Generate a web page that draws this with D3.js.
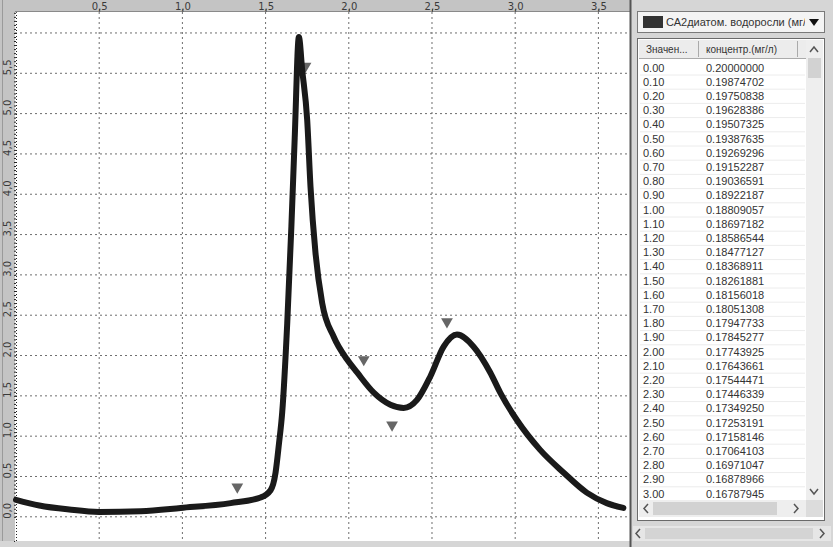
<!DOCTYPE html>
<html>
<head>
<meta charset="utf-8">
<script src="https://cdn.jsdelivr.net/npm/d3@7"></script>
<style>
  body { margin: 0; background: #d6d6d6; }
  svg { display: block; }
</style>
</head>
<body>
<svg id="chart"></svg>
<script>
// curve (time, concentration)
const curveX = [0.00, 0.14, 0.32, 0.50, 0.75, 0.99, 1.29, 1.47, 1.53, 1.56, 1.58, 1.60, 1.63, 1.655, 1.675, 1.70, 1.72, 1.75, 1.77, 1.80, 1.84, 1.91, 1.99, 2.05, 2.15, 2.25, 2.33, 2.41, 2.49, 2.57, 2.65, 2.75, 2.85, 2.91, 3.01, 3.15, 3.29, 3.43, 3.55, 3.65];
const curveY = [0.21, 0.14, 0.09, 0.06, 0.07, 0.11, 0.17, 0.24, 0.33, 0.55, 0.90, 1.30, 2.40, 3.60, 4.70, 5.95, 5.54, 4.92, 4.09, 3.27, 2.65, 2.23, 1.95, 1.79, 1.54, 1.39, 1.35, 1.45, 1.74, 2.11, 2.26, 2.11, 1.79, 1.54, 1.20, 0.83, 0.55, 0.30, 0.17, 0.11];

// triangle markers
const markerX = [1.33, 1.74, 2.09, 2.26, 2.59];
const markerY = [0.37, 5.59, 1.95, 1.14, 2.42];

// axis ticks
const xTicks = [0.5, 1.0, 1.5, 2.0, 2.5, 3.0, 3.5];
const xTickLabels = ["0,5", "1,0", "1,5", "2,0", "2,5", "3,0", "3,5"];
const yTicks = [0.0, 0.5, 1.0, 1.5, 2.0, 2.5, 3.0, 3.5, 4.0, 4.5, 5.0, 5.5, 6.0];
const yTickLabels = ["0,0", "0,5", "1,0", "1,5", "2,0", "2,5", "3,0", "3,5", "4,0", "4,5", "5,0", "5,5", ""];

// table on the right
const seriesName = "СА2диатом. водоросли (мг/л)";
const tableHeaders = ["Значен...", "концентр.(мг/л)"];
const tableTimes = ["0.00", "0.10", "0.20", "0.30", "0.40", "0.50", "0.60", "0.70", "0.80", "0.90",
  "1.00", "1.10", "1.20", "1.30", "1.40", "1.50", "1.60", "1.70", "1.80", "1.90",
  "2.00", "2.10", "2.20", "2.30", "2.40", "2.50", "2.60", "2.70", "2.80", "2.90", "3.00"];
const tableValues = ["0.20000000", "0.19874702", "0.19750838", "0.19628386", "0.19507325", "0.19387635",
  "0.19269296", "0.19152287", "0.19036591", "0.18922187", "0.18809057", "0.18697182", "0.18586544",
  "0.18477127", "0.18368911", "0.18261881", "0.18156018", "0.18051308", "0.17947733", "0.17845277",
  "0.17743925", "0.17643661", "0.17544471", "0.17446339", "0.17349250", "0.17253191", "0.17158146",
  "0.17064103", "0.16971047", "0.16878966", "0.16787945"];

const W = 833, H = 547;
const plot = { left: 15, top: 12, right: 630, bottom: 541 };

const svg = d3.select('#chart').attr('width', W).attr('height', H);

svg.append('rect').attr('width', W).attr('height', H).attr('fill', '#d6d6d6');

// plot background
svg.append('rect')
    .attr('x', plot.left).attr('y', plot.top)
    .attr('width', plot.right - plot.left).attr('height', plot.bottom - plot.top)
    .attr('fill', '#ffffff');

const x = d3.scaleLinear().domain([0, 3.69]).range([16, plot.right]);
const y = d3.scaleLinear().domain([-0.3, 6.26]).range([plot.bottom, plot.top]);

// grid
const grid = svg.append('g').attr('class', 'grid');
grid.selectAll('.vgrid').data(xTicks).enter().append('line')
    .attr('x1', d => x(d)).attr('x2', d => x(d))
    .attr('y1', plot.top).attr('y2', plot.bottom)
    .attr('stroke', '#6e6e6e').attr('stroke-dasharray', '2,3');
grid.selectAll('.hgrid').data(yTicks).enter().append('line')
    .attr('x1', plot.left).attr('x2', plot.right)
    .attr('y1', d => y(d)).attr('y2', d => y(d))
    .attr('stroke', '#6e6e6e').attr('stroke-dasharray', '2,3');

// top axis band
svg.append('rect').attr('x', 0).attr('y', 0).attr('width', plot.right).attr('height', plot.top)
    .attr('fill', '#c4c4c4');
svg.append('line').attr('x1', 0).attr('x2', plot.right).attr('y1', plot.top - 0.5).attr('y2', plot.top - 0.5)
    .attr('stroke', '#8a8a8a');

// left axis strip
svg.append('rect').attr('x', 0).attr('y', 0).attr('width', plot.left).attr('height', plot.bottom)
    .attr('fill', '#c4c4c4');
svg.append('line').attr('x1', 2.5).attr('x2', 2.5).attr('y1', 0).attr('y2', plot.bottom)
    .attr('stroke', '#9a9a9a');

const xAxis = d3.axisTop(x)
    .tickValues(xTicks)
    .tickSize(3)
    .tickFormat((d, i) => xTickLabels[i]);
const gx = svg.append('g').attr('transform', `translate(0,${plot.top})`).call(xAxis);
gx.select('.domain').remove();
gx.selectAll('line').attr('stroke', '#555');
gx.selectAll('text')
    .attr('y', -2)
    .style('font-family', '"DejaVu Sans", sans-serif')
    .style('font-size', '10px')
    .attr('fill', '#3a3a3a');

const yAxis = d3.axisLeft(y)
    .tickValues(d3.range(0, 6.3, 0.05))
    .tickSize(2)
    .tickFormat('');
const gy = svg.append('g').attr('transform', `translate(${plot.left + 1},0)`).call(yAxis);
gy.select('.domain').attr('stroke', '#222').attr('stroke-dasharray', '1,2');
gy.selectAll('line').attr('stroke', '#222');

svg.append('g').selectAll('text').data(yTicks).enter().append('text')
    .attr('transform', d => `translate(11,${y(d) - 6}) rotate(-90)`)
    .attr('text-anchor', 'middle')
    .style('font-family', '"DejaVu Sans", sans-serif')
    .style('font-size', '10px')
    .attr('fill', '#3a3a3a')
    .text((d, i) => yTickLabels[i]);

// markers
const tri = d3.symbol().type(d3.symbolTriangle).size(60);
svg.append('g').selectAll('path').data(markerX).enter().append('path')
    .attr('d', tri)
    .attr('transform', (d, i) => `translate(${x(d)},${y(markerY[i])}) rotate(180)`)
    .attr('fill', '#666666');

// curve
const line = d3.line()
    .x(d => x(d[0]))
    .y(d => y(d[1]))
    .curve(d3.curveMonotoneX);
svg.append('path')
    .datum(curveX.map((d, i) => [d, curveY[i]]))
    .attr('d', line)
    .attr('fill', 'none')
    .attr('stroke', '#1a1a1a')
    .attr('stroke-width', 6)
    .attr('stroke-linecap', 'round')
    .attr('stroke-linejoin', 'round');

// plot right frame
svg.append('line').attr('x1', plot.right + 0.5).attr('x2', plot.right + 0.5).attr('y1', 0).attr('y2', plot.bottom + 6)
    .attr('stroke', '#555').attr('stroke-width', 2);

// ---- right panel ----
const panel = svg.append('g');
const font = '"Liberation Sans", Arial, sans-serif';

// combobox
panel.append('rect').attr('x', 637.5).attr('y', 11.5).attr('width', 187).attr('height', 21)
    .attr('fill', '#f4f4f4').attr('stroke', '#7a7a7a');
panel.append('rect').attr('x', 643).attr('y', 16).attr('width', 20).attr('height', 12).attr('fill', '#333');
panel.append('text').attr('x', 666).attr('y', 26).text(seriesName)
    .style('font-family', font).style('font-size', '11px').attr('fill', '#333');
panel.append('rect').attr('x', 805).attr('y', 13).attr('width', 18).attr('height', 18).attr('fill', '#f4f4f4');
panel.append('path').attr('d', 'M809,19 L819,19 L814,26 Z').attr('fill', '#111');

// table frame
const tbl = { x: 637.5, y: 38.5, w: 187, h: 482 };
panel.append('rect').attr('x', tbl.x).attr('y', tbl.y).attr('width', tbl.w).attr('height', tbl.h)
    .attr('fill', '#ffffff').attr('stroke', '#6a6a6a');

// header
panel.append('rect').attr('x', 639).attr('y', 40).attr('width', 167).attr('height', 18).attr('fill', '#ececec');
panel.append('line').attr('x1', 639).attr('x2', 806).attr('y1', 58.5).attr('y2', 58.5).attr('stroke', '#aaa');
[698.5, 797.5].forEach(sx => {
    panel.append('line').attr('x1', sx).attr('x2', sx).attr('y1', 41).attr('y2', 57).attr('stroke', '#aaa');
});
panel.append('text').attr('x', 646).attr('y', 53).text(tableHeaders[0])
    .style('font-family', font).style('font-size', '10px').attr('fill', '#333');
panel.append('text').attr('x', 706).attr('y', 53).text(tableHeaders[1])
    .style('font-family', font).style('font-size', '10px').attr('fill', '#333');

// rows
const rowY = d3.scaleLinear().domain([0, 30]).range([67.5, 493.5]);
const rows = panel.append('g').selectAll('g').data(tableTimes).enter().append('g')
    .attr('transform', (d, i) => `translate(0,${rowY(i)})`);
rows.append('line').attr('x1', 640).attr('x2', 805).attr('y1', 7.5).attr('y2', 7.5).attr('stroke', '#ececec');
rows.append('text').attr('x', 643).attr('y', 4).text(d => d)
    .style('font-family', font).style('font-size', '11px').attr('fill', '#333');
rows.append('text').attr('x', 706).attr('y', 4).text((d, i) => tableValues[i])
    .style('font-family', font).style('font-size', '11px').attr('fill', '#333');

// vertical scrollbar
panel.append('rect').attr('x', 806).attr('y', 40).attr('width', 17).attr('height', 460).attr('fill', '#eeeeee');
panel.append('rect').attr('x', 808).attr('y', 58).attr('width', 13).attr('height', 20).attr('fill', '#d2d2d2');
panel.append('path').attr('d', 'M810,52 L814,47 L818,52').attr('fill', 'none').attr('stroke', '#555').attr('stroke-width', 1.5);
panel.append('path').attr('d', 'M810,489 L814,494 L818,489').attr('fill', 'none').attr('stroke', '#555').attr('stroke-width', 1.5);

// inner horizontal scrollbar
panel.append('rect').attr('x', 639).attr('y', 500).attr('width', 167).attr('height', 17).attr('fill', '#eeeeee');
panel.append('rect').attr('x', 653).attr('y', 502).attr('width', 124).attr('height', 13).attr('fill', '#d2d2d2');
panel.append('path').attr('d', 'M648,504 L644,508.5 L648,513').attr('fill', 'none').attr('stroke', '#555').attr('stroke-width', 1.5);
panel.append('path').attr('d', 'M794,504 L798,508.5 L794,513').attr('fill', 'none').attr('stroke', '#555').attr('stroke-width', 1.5);
panel.append('rect').attr('x', 806).attr('y', 500).attr('width', 17).attr('height', 17).attr('fill', '#dcdcdc');

// outer horizontal scrollbar
panel.append('rect').attr('x', 633).attr('y', 526).attr('width', 198).attr('height', 15).attr('fill', '#e6e6e6');
panel.append('rect').attr('x', 645).attr('y', 528).attr('width', 168).attr('height', 11).attr('fill', '#d4d4d4');
panel.append('path').attr('d', 'M640,529 L636,533.5 L640,538').attr('fill', 'none').attr('stroke', '#555').attr('stroke-width', 1.5);
panel.append('path').attr('d', 'M820,529 L824,533.5 L820,538').attr('fill', 'none').attr('stroke', '#555').attr('stroke-width', 1.5);
</script>
</body>
</html>
